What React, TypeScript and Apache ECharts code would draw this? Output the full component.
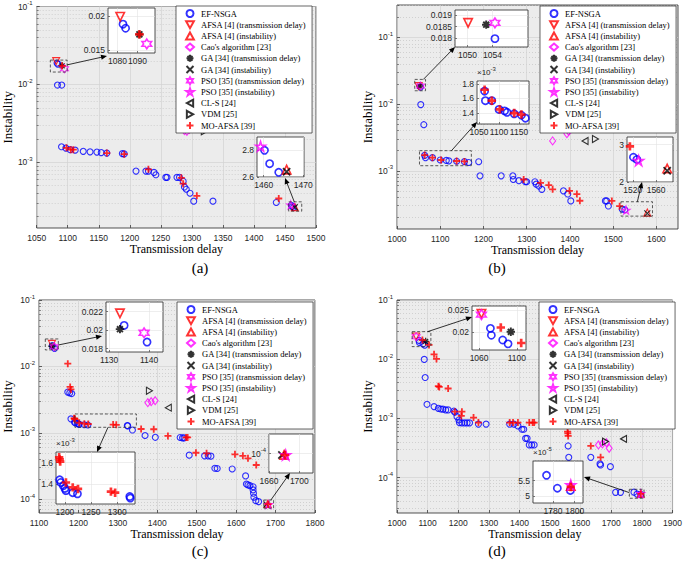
import { useEffect, useRef } from 'react';
import * as echarts from 'echarts';

type Pt = [number, number];

const NAMES = [
  'EF-NSGA',
  'AFSA [4] (transmission delay)',
  'AFSA [4] (instability)',
  "Cao's algorithm [23]",
  'GA [34] (transmission delay)',
  'GA [34] (instability)',
  'PSO [35] (transmission delay)',
  'PSO [35] (instability)',
  'CL-S [24]',
  'VDM [25]',
  'MO-AFSA [39]',
];

// ---------- panel (a) ----------
const A_EF: Pt[] = [
  [1082.8, 0.0188], [1084.1, 0.0182], [1083.5, 0.0098], [1090.4, 0.0098],
  [1090, 1.58e-3], [1097, 1.52e-3], [1104, 1.45e-3], [1112, 1.43e-3], [1125, 1.38e-3], [1136, 1.36e-3],
  [1147, 1.35e-3], [1154, 1.33e-3], [1163, 1.31e-3], [1188, 1.29e-3], [1191, 1.28e-3],
  [1210, 7.7e-4], [1226, 7.7e-4], [1230, 7.7e-4], [1239, 7.4e-4], [1242, 6.9e-4], [1258, 6.4e-4],
  [1260, 6.4e-4], [1276, 6.4e-4], [1280, 6.4e-4], [1286, 5.7e-4], [1288, 4.8e-4], [1291, 4.5e-4],
  [1297, 4.0e-4], [1303, 3.16e-4], [1334, 3.16e-4], [1436, 3.04e-4],
  [1460.2, 2.8e-4], [1461.5, 2.7e-4], [1463.8, 2.635e-4],
];
const A_AFSA_T: Pt[] = [[1081.4, 0.0199]];
const A_AFSA_I: Pt[] = [[1465.8, 2.655e-4]];
const A_CAO: Pt[] = [[1288, 2.55e-3], [1292, 2.5e-3], [1296, 2.65e-3], [1300, 2.8e-3]];
const A_GA_T: Pt[] = [[1091, 0.0173]];
const A_GA_I: Pt[] = [[1465.8, 2.64e-4]];
const A_PSO_T: Pt[] = [[1094.7, 0.0159]];
const A_PSO_I: Pt[] = [[1459.2, 2.83e-4]];
const A_CLS: Pt[] = [[1304, 2.84e-3]];
const A_VDM: Pt[] = [[1320, 2.49e-3]];
const A_MO: Pt[] = [
  [1091, 0.0173], [1098, 1.53e-3], [1105, 1.45e-3], [1109, 1.45e-3], [1163, 1.31e-3], [1191, 1.27e-3],
  [1230, 8.1e-4], [1283, 6.3e-4], [1286, 5.3e-4], [1308, 3.7e-4], [1440, 3.42e-4],
];

// ---------- panel (b) ----------
const B_EF: Pt[] = [
  [1054.4, 0.01797], [1055, 0.0098], [1062, 0.0049],
  [1064, 1.7e-3], [1066, 1.57e-3], [1082, 1.57e-3], [1100, 1.45e-3], [1114, 1.43e-3], [1120, 1.41e-3],
  [1138, 1.39e-3], [1156, 1.37e-3], [1166, 1.33e-3],
  [1189, 1.365e-3], [1192, 8.4e-4], [1241, 8.4e-4], [1268, 8.4e-4], [1269, 7.4e-4], [1282, 7.1e-4],
  [1297, 6.85e-4], [1300, 6.85e-4], [1319, 6.85e-4], [1322, 6.3e-4], [1328, 5.9e-4], [1335, 5.26e-4],
  [1385, 5.0e-4], [1395, 4.48e-4], [1402, 3.53e-4], [1482, 3.53e-4], [1485, 3.53e-4], [1489, 2.96e-4],
  [1521, 2.66e-4], [1527, 2.6e-4],
];
const B_AFSA_T: Pt[] = [[1050.1, 0.01867]];
const B_AFSA_I: Pt[] = [[1579, 2.36e-4]];
const B_CAO: Pt[] = [[1360, 2.8e-3], [1393, 3.6e-3], [1397, 3.9e-3], [1403, 4.3e-3]];
const B_GA_T: Pt[] = [[1053, 0.01859]];
const B_GA_I: Pt[] = [[1579, 2.3e-4]];
const B_PSO_T: Pt[] = [[1054.4, 0.01867]];
const B_PSO_I: Pt[] = [[1530, 2.57e-4]];
const B_CLS: Pt[] = [[1435, 2.79e-3]];
const B_VDM: Pt[] = [[1459, 3.0e-3]];
const B_MO: Pt[] = [
  [1064, 1.72e-3], [1082, 1.57e-3], [1102, 1.45e-3], [1138, 1.4e-3], [1156, 1.38e-3],
  [1293, 7.4e-4], [1332, 6.6e-4], [1351, 6.1e-4], [1360, 5.26e-4], [1399, 5.0e-4], [1416, 4.48e-4],
  [1423, 3.55e-4], [1497, 3.53e-4], [1515, 2.95e-4],
];

// ---------- panel (c) ----------
const C_EF: Pt[] = [
  [1133.75, 0.0205], [1139.5, 0.0187], [1173, 4.1e-3], [1178, 4.0e-3], [1183, 3.9e-3], [1181, 1.62e-3],
  [1190, 1.44e-3], [1192, 1.415e-3], [1197, 1.385e-3], [1200, 1.36e-3], [1202, 1.34e-3], [1215, 1.32e-3],
  [1224, 1.31e-3], [1324, 1.285e-3], [1325, 1.27e-3],
  [1337, 1.1e-3], [1369, 9.1e-4], [1395, 8.55e-4], [1458, 8.5e-4], [1464, 8.4e-4], [1468, 8.4e-4],
  [1481, 4.6e-4], [1520, 4.5e-4], [1529, 4.5e-4], [1536, 4.45e-4], [1546, 2.92e-4], [1552, 2.9e-4],
  [1590, 2.85e-4], [1624, 2.24e-4], [1626, 1.69e-4], [1630, 1.64e-4], [1635, 1.6e-4], [1643, 1.54e-4],
  [1643, 1.38e-4], [1644, 1.23e-4], [1645, 1.07e-4], [1650, 9.5e-5], [1657, 9.2e-5],
];
const C_AFSA_T: Pt[] = [[1132.7, 0.0218]];
const C_AFSA_I: Pt[] = [[1680, 8.5e-5]];
const C_CAO: Pt[] = [[1376, 2.84e-3], [1384.5, 2.94e-3], [1394.6, 3.04e-3]];
const C_GA_T: Pt[] = [[1132.7, 0.0201]];
const C_GA_I: Pt[] = [[1677, 8.3e-5]];
const C_PSO_T: Pt[] = [[1138.75, 0.0197]];
const C_PSO_I: Pt[] = [[1682, 8.3e-5]];
const C_CLS: Pt[] = [[1428, 2.39e-3]];
const C_VDM: Pt[] = [[1380, 4.3e-3]];
const C_MO: Pt[] = [
  [1173, 0.011], [1179, 4.9e-3], [1181, 4.5e-3], [1189, 1.65e-3], [1190, 1.63e-3], [1191, 1.61e-3],
  [1202, 1.415e-3], [1215, 1.37e-3], [1225, 1.355e-3], [1288, 1.33e-3], [1296, 1.32e-3], [1359, 1.14e-3],
  [1391, 1.13e-3], [1427, 8.96e-4], [1473, 8.5e-4], [1477, 8.5e-4], [1498, 5.0e-4], [1525, 4.9e-4],
  [1597, 4.74e-4], [1617, 4.5e-4], [1630, 4.13e-4], [1651, 3.27e-4], [1681, 8.4e-5],
];

// ---------- panel (d) ----------
const D_EF: Pt[] = [
  [1072, 0.0208], [1073, 0.0192], [1085, 0.0181], [1090.7, 0.0172], [1089, 0.0099], [1092, 4.9e-3],
  [1098, 1.73e-3], [1121, 1.58e-3], [1135, 1.48e-3], [1143, 1.44e-3], [1150, 1.43e-3], [1159, 1.39e-3],
  [1167, 1.39e-3], [1186, 1.33e-3], [1189, 1.27e-3], [1196, 1.07e-3], [1202, 9.4e-4], [1204, 8.47e-4],
  [1212, 8.4e-4], [1221, 8.4e-4], [1229, 8.4e-4], [1237, 8.4e-4], [1266, 8.0e-4], [1291, 8.0e-4],
  [1368, 8.0e-4], [1382, 8.0e-4], [1395, 7.45e-4], [1408, 6.55e-4], [1414, 6.55e-4], [1420, 4.6e-4],
  [1425, 4.6e-4], [1432, 3.56e-4], [1440, 3.56e-4], [1448, 3.56e-4], [1559, 3.42e-4], [1561, 2.2e-4],
  [1633, 2.2e-4], [1663, 1.7e-4], [1665, 1.63e-4], [1697, 1.53e-4], [1714, 5.63e-5], [1730, 5.63e-5],
  [1774, 5.67e-5], [1784, 5.26e-5], [1796, 5.19e-5],
];
const D_AFSA_T: Pt[] = [[1062.5, 0.0242]];
const D_AFSA_I: Pt[] = [[1796.4, 5.33e-5]];
const D_CAO: Pt[] = [[1658, 3.56e-4], [1671, 3.7e-4], [1684, 3.89e-4], [1693, 3.13e-4]];
const D_GA_T: Pt[] = [[1093.6, 0.02]];
const D_GA_I: Pt[] = [];
const D_PSO_T: Pt[] = [[1062.5, 0.024]];
const D_PSO_I: Pt[] = [[1796.4, 5.36e-5]];
const D_CLS: Pt[] = [[1740, 4.5e-4]];
const D_VDM: Pt[] = [[1681, 4.05e-4]];
const D_MO: Pt[] = [
  [1083, 0.021], [1104.6, 0.0174], [1121, 0.0121], [1129, 0.0101], [1135, 3.5e-3], [1138, 3.4e-3],
  [1167, 3.2e-3], [1189, 1.3e-3], [1212, 1.3e-3], [1210, 1.1e-3], [1250, 1.03e-3], [1266, 8.5e-4],
  [1368, 8.5e-4], [1379, 8.5e-4], [1395, 8.5e-4], [1432, 8.5e-4], [1443, 8.5e-4], [1448, 8.5e-4],
  [1557, 5.97e-4], [1558, 5.6e-4], [1559, 5.05e-4], [1633, 3.42e-4], [1665, 2.2e-4], [1796.4, 5.3e-5],
];

// ---------- tick labels ----------
const A_X_TICKS = [1050, 1100, 1150, 1200, 1250, 1300, 1350, 1400, 1450, 1500];
const B_X_TICKS = [1000, 1100, 1200, 1300, 1400, 1500, 1600];
const C_X_TICKS = [1100, 1200, 1300, 1400, 1500, 1600, 1700, 1800];
const D_X_TICKS = [1000, 1100, 1200, 1300, 1400, 1500, 1600, 1700, 1800, 1900];
const A_Y_TICKS = [1e-3, 1e-2, 1e-1];
const B_Y_TICKS = [1e-3, 1e-2, 1e-1];
const C_Y_TICKS = [1e-4, 1e-3, 1e-2, 1e-1];
const D_Y_TICKS = [1e-4, 1e-3, 1e-2, 1e-1];

const SANS = 'Liberation Sans, Arial, sans-serif';
const SERIF = 'Liberation Serif, Times New Roman, serif';
const INK = '#262626';

const HEX = 'path://M5,0L6.443,2.5L9.33,2.5L7.887,5L9.33,7.5L6.443,7.5L5,10L3.557,7.5L0.67,7.5L2.113,5L0.67,2.5L3.557,2.5Z';
const PENT = 'path://M5,0L6.123,3.455L9.755,3.455L6.817,5.59L7.939,9.045L5,6.91L2.061,9.045L3.183,5.59L0.245,3.455L3.877,3.455Z';
const MARKERS: { symbol: string; size: number | number[]; color: string; width: number }[] = [
  { symbol: 'circle', size: 6, color: '#0000ff', width: 1.1 },
  { symbol: 'path://M0,0L10,0L5,9Z', size: [7, 7], color: '#ff0000', width: 1.1 },
  { symbol: 'path://M5,0L10,9L0,9Z', size: [7, 7], color: '#ff0000', width: 1.1 },
  { symbol: 'diamond', size: [6, 8], color: '#ff00ff', width: 1.1 },
  { symbol: 'path://M5,0L5,10M0,5L10,5M1.5,1.5L8.5,8.5M8.5,1.5L1.5,8.5', size: 7, color: '#000000', width: 1.3 },
  { symbol: 'path://M0,0L10,10M10,0L0,10', size: 6, color: '#000000', width: 1.2 },
  { symbol: HEX, size: 8, color: '#ff00ff', width: 1.1 },
  { symbol: PENT, size: 8, color: '#ff00ff', width: 1.1 },
  { symbol: 'path://M0,5L9,0L9,10Z', size: [6, 7], color: '#000000', width: 1.1 },
  { symbol: 'path://M0,0L9,5L0,10Z', size: [6, 7], color: '#000000', width: 1.1 },
  { symbol: 'path://M5,0L5,10M0,5L10,5', size: 7, color: '#ff0000', width: 1.8 },
];

interface Ax { min: number; max: number; ticks: number[]; fmt?: (v: number) => string; log?: boolean }
interface Inset { rect: number[]; x: Ax; y: Ax; exp?: string; box: number[]; from: Pt; to: Pt }
interface Panel {
  rect: number[]; x: Ax; y: Ax; data: Pt[][]; insets: Inset[];
  yNameGap: number; xNameGap: number; legend: number[]; label: [string, number, number];
}

const scale = (k: number, d: number) => (v: number) => String(+(v * k).toFixed(d));
const pow10 = (v: number) => `{b|10}{s|${Math.round(Math.log10(v))}}`;

const PANELS: Panel[] = [
  {
    rect: [34, 6, 282, 222], x: { min: 1050, max: 1500, ticks: A_X_TICKS }, y: { min: 1.43e-4, max: 0.1, ticks: A_Y_TICKS, log: true },
    data: [A_EF, A_AFSA_T, A_AFSA_I, A_CAO, A_GA_T, A_GA_I, A_PSO_T, A_PSO_I, A_CLS, A_VDM, A_MO],
    yNameGap: 22, xNameGap: 15, legend: [176, 6], label: ['(a)', 200, 268],
    insets: [
      { rect: [108, 8, 47, 45], x: { min: 1075.3, max: 1098.8, ticks: [1080, 1090] }, y: { min: 0.01456, max: 0.02118, ticks: [0.015, 0.02] },
        box: [1072, 1099, 0.0144, 0.0205], from: [1099, 0.0178], to: [107, 56] },
      { rect: [257, 137, 47, 40], x: { min: 1458.3, max: 1470.2, ticks: [1460, 1470] }, y: { min: 2.6e-4, max: 2.9e-4, ticks: [2.6e-4, 2.8e-4], fmt: scale(1e4, 2) },
        exp: '-4', box: [1456, 1477, 2.35e-4, 3.1e-4], from: [1465, 3.1e-4], to: [285, 178] },
    ],
  },
  {
    rect: [397, 5, 281, 224], x: { min: 1000, max: 1650, ticks: B_X_TICKS }, y: { min: 1.34e-4, max: 0.305, ticks: B_Y_TICKS, log: true },
    data: [B_EF, B_AFSA_T, B_AFSA_I, B_CAO, B_GA_T, B_GA_I, B_PSO_T, B_PSO_I, B_CLS, B_VDM, B_MO],
    yNameGap: 20, xNameGap: 15, legend: [540, 6], label: ['(b)', 497, 268],
    insets: [
      { rect: [455, 10, 73, 37], x: { min: 1048, max: 1059.7, ticks: [1050, 1054] }, y: { min: 0.0176, max: 0.01924, ticks: [0.018, 0.0185, 0.019] },
        box: [1041, 1066, 0.0158, 0.0234], from: [1061, 0.0234], to: [455, 47] },
      { rect: [477, 81, 52, 43], x: { min: 1045, max: 1175, ticks: [1050, 1100, 1150] }, y: { min: 1.25e-3, max: 1.84e-3, ticks: [1.4e-3, 1.6e-3, 1.8e-3], fmt: scale(1e3, 2) },
        exp: '-3', box: [1052, 1172, 1.19e-3, 2.0e-3], from: [1126, 2.0e-3], to: [477, 122] },
      { rect: [627, 137, 46, 45], x: { min: 1510, max: 1589, ticks: [1520, 1560] }, y: { min: 2.0e-4, max: 3.2e-4, ticks: [2e-4, 3e-4], fmt: scale(1e4, 2) },
        exp: '-4', box: [1518, 1591, 2.09e-4, 3.43e-4], from: [1556, 3.43e-4], to: [642, 182] },
    ],
  },
  {
    rect: [37, 300, 278, 213], x: { min: 1100, max: 1800, ticks: C_X_TICKS }, y: { min: 6.19e-5, max: 0.1, ticks: C_Y_TICKS, log: true },
    data: [C_EF, C_AFSA_T, C_AFSA_I, C_CAO, C_GA_T, C_GA_I, C_PSO_T, C_PSO_I, C_CLS, C_VDM, C_MO],
    yNameGap: 25, xNameGap: 13, legend: [177, 302], label: ['(c)', 200, 551],
    insets: [
      { rect: [106, 302, 57, 50], x: { min: 1129.2, max: 1143.5, ticks: [1130, 1140] }, y: { min: 0.01763, max: 0.02303, ticks: [0.018, 0.02, 0.022] },
        box: [1116, 1149, 0.0177, 0.0259], from: [1149, 0.021], to: [102, 336] },
      { rect: [56, 452, 79, 52], x: { min: 1183, max: 1334, ticks: [1200, 1250, 1300] }, y: { min: 1.215e-3, max: 1.699e-3, ticks: [1.4e-3, 1.6e-3], fmt: scale(1e3, 2) },
        exp: '-3', box: [1191, 1347, 1.21e-3, 1.92e-3], from: [1275, 1.21e-3], to: [97, 452] },
      { rect: [269, 434, 44, 39], x: { min: 1660, max: 1718, ticks: [1660, 1700] }, y: { min: 1e-5, max: 1e-3, ticks: [1e-4], log: true },
        box: [1670, 1695, 7.3e-5, 9.7e-5], from: [1688, 9.7e-5], to: [290, 473] },
    ],
  },
  {
    rect: [397, 300, 280, 213], x: { min: 1000, max: 1900, ticks: D_X_TICKS }, y: { min: 2.52e-5, max: 0.1, ticks: D_Y_TICKS, log: true },
    data: [D_EF, D_AFSA_T, D_AFSA_I, D_CAO, D_GA_T, D_GA_I, D_PSO_T, D_PSO_I, D_CLS, D_VDM, D_MO],
    yNameGap: 21, xNameGap: 13, legend: [539, 302], label: ['(d)', 497, 551],
    insets: [
      { rect: [472, 306, 54, 44], x: { min: 1052.5, max: 1109.7, ticks: [1060, 1100] }, y: { min: 0.01577, max: 0.026, ticks: [0.02, 0.025] },
        box: [1049.5, 1110.6, 0.0163, 0.0292], from: [1100, 0.0292], to: [472, 317] },
      { rect: [533, 461, 50, 42], x: { min: 1761.5, max: 1807.7, ticks: [1780, 1800] }, y: { min: 4.79e-5, max: 6.125e-5, ticks: [5e-5, 5.5e-5], fmt: scale(1e5, 2) },
        exp: '-5', box: [1759, 1807, 4.47e-5, 6.34e-5], from: [1759, 5.56e-5], to: [584, 477] },
    ],
  },
];

function minorValues(min: number, max: number): number[] {
  const out: number[] = [];
  for (let k = Math.floor(Math.log10(min)); k <= Math.ceil(Math.log10(max)); k++) {
    for (let m = 2; m <= 9; m++) {
      const v = m * Math.pow(10, k);
      if (v > min && v < max) out.push(v);
    }
  }
  return out;
}

const RICH = {
  b: { fontSize: 8.5, fontFamily: SANS, color: INK },
  s: { fontSize: 6, fontFamily: SANS, color: INK, padding: [0, 0, 7, 0] },
};

function makeSeries(data: Pt[][], xi: number, yi: number, inset: boolean) {
  return data.map((d, k) => {
    const m = MARKERS[k];
    const f = inset ? 1.2 : 1;
    const size = Array.isArray(m.size) ? m.size.map((s) => s * f) : m.size * f;
    return {
      type: 'scatter', name: NAMES[k], xAxisIndex: xi, yAxisIndex: yi, data: d,
      symbol: m.symbol, symbolSize: size, clip: true, silent: true,
      itemStyle: { color: 'rgba(0,0,0,0)', borderColor: m.color, borderWidth: inset ? m.width * 1.5 : m.width },
      z: inset ? 6 : 2,
    };
  });
}

export default function App() {
  const ref = useRef<HTMLDivElement>(null);
  useEffect(() => {
    if (!ref.current) return;
    const chart = echarts.init(ref.current, undefined, { renderer: 'svg' });
    const grids: any[] = [], xAxes: any[] = [], yAxes: any[] = [], series: any[] = [], legends: any[] = [];
    const links: { xi: number; yi: number; ins: Inset }[] = [];

    PANELS.forEach((p) => {
      const gi = grids.length;
      grids.push({ left: p.rect[0], top: p.rect[1], width: p.rect[2], height: p.rect[3], show: true,
        backgroundColor: '#ececec', borderColor: INK, borderWidth: 0.8, z: 0 });
      const xi = xAxes.length;
      xAxes.push({
        type: 'value', gridIndex: gi, min: p.x.min, max: p.x.max,
        axisLine: { show: false },
        axisTick: { show: true, inside: true, length: 3, customValues: p.x.ticks, lineStyle: { color: INK, width: 0.7 } },
        axisLabel: { customValues: p.x.ticks, fontSize: 8.5, fontFamily: SANS, color: INK, margin: 5, formatter: (v: number) => String(v) },
        splitLine: { show: true, lineStyle: { color: '#d2d2d2', width: 0.7 } },
        name: 'Transmission delay', nameLocation: 'middle', nameGap: p.xNameGap,
        nameTextStyle: { fontFamily: SERIF, fontSize: 12, color: '#000' },
      });
      const yi = yAxes.length;
      yAxes.push({
        type: 'log', logBase: 10, gridIndex: gi, min: p.y.min, max: p.y.max, position: 'left',
        axisLine: { show: false },
        axisTick: { show: true, inside: true, length: 3, customValues: p.y.ticks, lineStyle: { color: INK, width: 0.7 } },
        axisLabel: { customValues: p.y.ticks, formatter: pow10, rich: RICH, margin: 4 },
        splitLine: { show: true, lineStyle: { color: '#d2d2d2', width: 0.7 } },
        name: 'Instability', nameLocation: 'middle', nameGap: p.yNameGap, nameRotate: 90,
        nameTextStyle: { fontFamily: SERIF, fontSize: 13, color: '#000' },
      });
      yAxes.push({
        type: 'log', logBase: 10, gridIndex: gi, min: p.y.min, max: p.y.max, position: 'left',
        axisLine: { show: false }, axisLabel: { show: false },
        axisTick: { show: true, inside: true, length: 2, customValues: minorValues(p.y.min, p.y.max), lineStyle: { color: INK, width: 0.5 } },
        splitLine: { show: true, lineStyle: { color: '#c4c4c4', width: 0.7, type: [1, 2] } },
      });
      series.push(...makeSeries(p.data, xi, yi, false));
      legends.push({
        show: true, orient: 'vertical', left: p.legend[0], top: p.legend[1], data: NAMES,
        itemWidth: 8, itemHeight: 7, itemGap: 2.2, selectedMode: false,
        backgroundColor: '#ffffff', borderColor: INK, borderWidth: 0.7, padding: [3, 6, 3, 9],
        textStyle: { fontFamily: SERIF, fontSize: 8.5, color: '#000', padding: [0, 0, 0, 2] }, z: 8,
      });
      p.insets.forEach((ins) => {
        const g2 = grids.length;
        grids.push({ left: ins.rect[0], top: ins.rect[1], width: ins.rect[2], height: ins.rect[3], show: true,
          backgroundColor: '#ffffff', borderColor: INK, borderWidth: 0.8, z: 4 });
        const x2 = xAxes.length;
        xAxes.push({
          type: 'value', gridIndex: g2, min: ins.x.min, max: ins.x.max, z: 5,
          axisLine: { show: false },
          axisTick: { show: true, inside: true, length: 2, customValues: ins.x.ticks, lineStyle: { color: INK, width: 0.6 } },
          axisLabel: { customValues: ins.x.ticks, fontSize: 8.5, fontFamily: SANS, color: INK, margin: 3, formatter: (v: number) => String(v) },
          splitLine: { show: true, lineStyle: { color: '#e2e2e2', width: 0.6 } },
        });
        const y2 = yAxes.length;
        yAxes.push({
          type: ins.y.log ? 'log' : 'value', gridIndex: g2, min: ins.y.min, max: ins.y.max, z: 5, position: 'left',
          axisLine: { show: false },
          axisTick: { show: true, inside: true, length: 2, customValues: ins.y.ticks, lineStyle: { color: INK, width: 0.6 } },
          axisLabel: { customValues: ins.y.ticks, fontSize: 8.5, fontFamily: SANS, color: INK, margin: 3,
            formatter: ins.y.log ? pow10 : ins.y.fmt || ((v: number) => String(v)), rich: RICH },
          splitLine: { show: true, lineStyle: { color: '#e2e2e2', width: 0.6 } },
          name: ins.exp ? `×10{s|${ins.exp}}` : '', nameLocation: 'end', nameGap: 3,
          nameTextStyle: { align: 'left', fontSize: 8, fontFamily: SANS, color: INK, rich: { s: { fontSize: 6, fontFamily: SANS, color: INK, padding: [0, 0, 6, 0] } } },
        });
        series.push(...makeSeries(p.data, x2, y2, true));
        links.push({ xi, yi, ins });
      });
    });

    chart.setOption({
      animation: false,
      backgroundColor: '#ffffff',
      textStyle: { fontFamily: SANS },
      grid: grids, xAxis: xAxes, yAxis: yAxes, legend: legends, series,
    });

    const els: any[] = [];
    PANELS.forEach((p) => {
      els.push({ type: 'text', x: p.label[1], y: p.label[2], z: 20, silent: true,
        style: { text: p.label[0], fontSize: 15, fontFamily: SERIF, fill: '#000', align: 'center', verticalAlign: 'middle' } });
    });
    links.forEach(({ xi, yi, ins }) => {
      const f = { xAxisIndex: xi, yAxisIndex: yi };
      const a = chart.convertToPixel(f, [ins.box[0], ins.box[3]]) as number[];
      const b = chart.convertToPixel(f, [ins.box[1], ins.box[2]]) as number[];
      els.push({ type: 'rect', z: 20, silent: true,
        shape: { x: a[0], y: a[1], width: b[0] - a[0], height: b[1] - a[1] },
        style: { fill: 'none', stroke: '#333', lineWidth: 0.8, lineDash: [3, 2] } });
      const s = chart.convertToPixel(f, ins.from) as number[];
      const e = ins.to;
      const dx = e[0] - s[0], dy = e[1] - s[1];
      const L = Math.hypot(dx, dy) || 1;
      const ux = dx / L, uy = dy / L;
      const hl = 6, hw = 2.6;
      els.push({ type: 'line', z: 20, silent: true,
        shape: { x1: s[0], y1: s[1], x2: e[0] - ux * (hl - 1), y2: e[1] - uy * (hl - 1) },
        style: { stroke: '#000', lineWidth: 0.8 } });
      els.push({ type: 'polygon', z: 20, silent: true,
        shape: { points: [[e[0], e[1]], [e[0] - ux * hl - uy * hw, e[1] - uy * hl + ux * hw], [e[0] - ux * hl + uy * hw, e[1] - uy * hl - ux * hw]] },
        style: { fill: '#000' } });
    });
    chart.setOption({ graphic: { elements: els } });

    return () => chart.dispose();
  }, []);
  return <div ref={ref} style={{ position: 'fixed', left: 0, top: 0, width: 685, height: 568, background: '#fff' }} />;
}
